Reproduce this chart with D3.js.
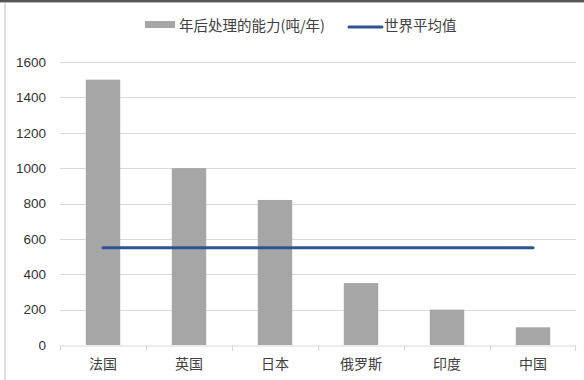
<!DOCTYPE html>
<html><head><meta charset="utf-8">
<script src="https://cdn.jsdelivr.net/npm/d3@7/dist/d3.min.js"></script>
<style>
html,body{margin:0;padding:0;background:#fff;}
svg{display:block;}
</style></head>
<body>
<svg id="c" width="584" height="380"></svg>
<script>
const categories = ["法国","英国","日本","俄罗斯","印度","中国"];
const capacity = [1500, 1000, 820, 350, 200, 100];
const worldAvg = [550, 550, 550, 550, 550, 550];
const yTicks = [0,200,400,600,800,1000,1200,1400,1600];
const seriesNames = ["年后处理的能力(吨/年)", "世界平均值"];

const svg = d3.select("#c");
const W = 584, H = 380;
const m = {left:60, right:8, top:62, bottom:35};
const x = d3.scaleBand().domain(categories).range([m.left, W - m.right]).paddingInner(0.6).paddingOuter(0.3);
const xb = d3.scaleBand().domain(categories).range([m.left, W - m.right]);
const y = d3.scaleLinear().domain([0,1600]).range([H - m.bottom, m.top]);

// frame
svg.append("rect").attr("x",0).attr("y",0).attr("width",W).attr("height",2).attr("fill","#555");
svg.append("rect").attr("x",0).attr("y",2).attr("width",W).attr("height",1).attr("fill","#bbb");
svg.append("rect").attr("x",4).attr("y",3).attr("width",2).attr("height",H-3).attr("fill","#e0e0e0");

// gridlines
svg.append("g").selectAll("line").data(yTicks.filter(d=>d>0)).join("line")
  .attr("x1", m.left).attr("x2", W - m.right)
  .attr("y1", d=>Math.round(y(d))+0.5).attr("y2", d=>Math.round(y(d))+0.5)
  .attr("stroke","#d9d9d9").attr("stroke-width",1);

// y axis labels
const yAxis = d3.axisLeft(y).tickValues(yTicks).tickFormat(d3.format("d")).tickSize(0).tickPadding(14);
const gy = svg.append("g").attr("transform",`translate(${m.left},0)`).call(yAxis);
gy.select(".domain").remove();
gy.selectAll("text").attr("font-family","Liberation Sans, Arial, sans-serif").attr("font-size",13.5).attr("fill","#333");

// bars
svg.append("g").selectAll("rect").data(categories).join("rect")
  .attr("x", d=>x(d)).attr("width", x.bandwidth())
  .attr("y", (d,i)=>y(capacity[i])).attr("height", (d,i)=>y(0)-y(capacity[i]))
  .attr("fill","#a6a6a6");

// x axis
const xAxis = d3.axisBottom(xb).tickSize(0).tickPadding(14);
const gx = svg.append("g").attr("transform",`translate(0,${Math.round(y(0))+0.5})`).call(xAxis);
gx.select(".domain").attr("stroke","#d9d9d9");
gx.selectAll("text").attr("font-family","Noto Sans CJK SC, sans-serif").attr("font-size",14).attr("fill","#404040");
svg.append("g").selectAll("line").data(categories.concat(["__end"])).join("line")
  .attr("x1", d=> d==="__end" ? W - m.right - 0.5 : Math.round(xb(d))+0.5)
  .attr("x2", d=> d==="__end" ? W - m.right - 0.5 : Math.round(xb(d))+0.5)
  .attr("y1", Math.round(y(0))).attr("y2", Math.round(y(0))+6)
  .attr("stroke","#d9d9d9");

// line
const line = d3.line().x((d,i)=>x(categories[i]) + x.bandwidth()/2).y(d=>y(d));
svg.append("path").datum(worldAvg).attr("d", line)
  .attr("fill","none").attr("stroke","#2f5491").attr("stroke-width",3).attr("stroke-linecap","round");

// legend
const lg = svg.append("g");
lg.append("rect").attr("x",145).attr("y",21).attr("width",30).attr("height",7).attr("fill","#a6a6a6");
lg.append("text").attr("x",179).attr("y",24).attr("dominant-baseline","central")
  .attr("font-family","Noto Sans CJK SC, sans-serif").attr("font-size",14.5).attr("fill","#404040").text(seriesNames[0]);
lg.append("line").attr("x1",349).attr("x2",382).attr("y1",27).attr("y2",27)
  .attr("stroke","#2f5491").attr("stroke-width",3).attr("stroke-linecap","round");
lg.append("text").attr("x",384).attr("y",24).attr("dominant-baseline","central")
  .attr("font-family","Noto Sans CJK SC, sans-serif").attr("font-size",14.5).attr("fill","#404040").text(seriesNames[1]);
</script>
</body></html>
